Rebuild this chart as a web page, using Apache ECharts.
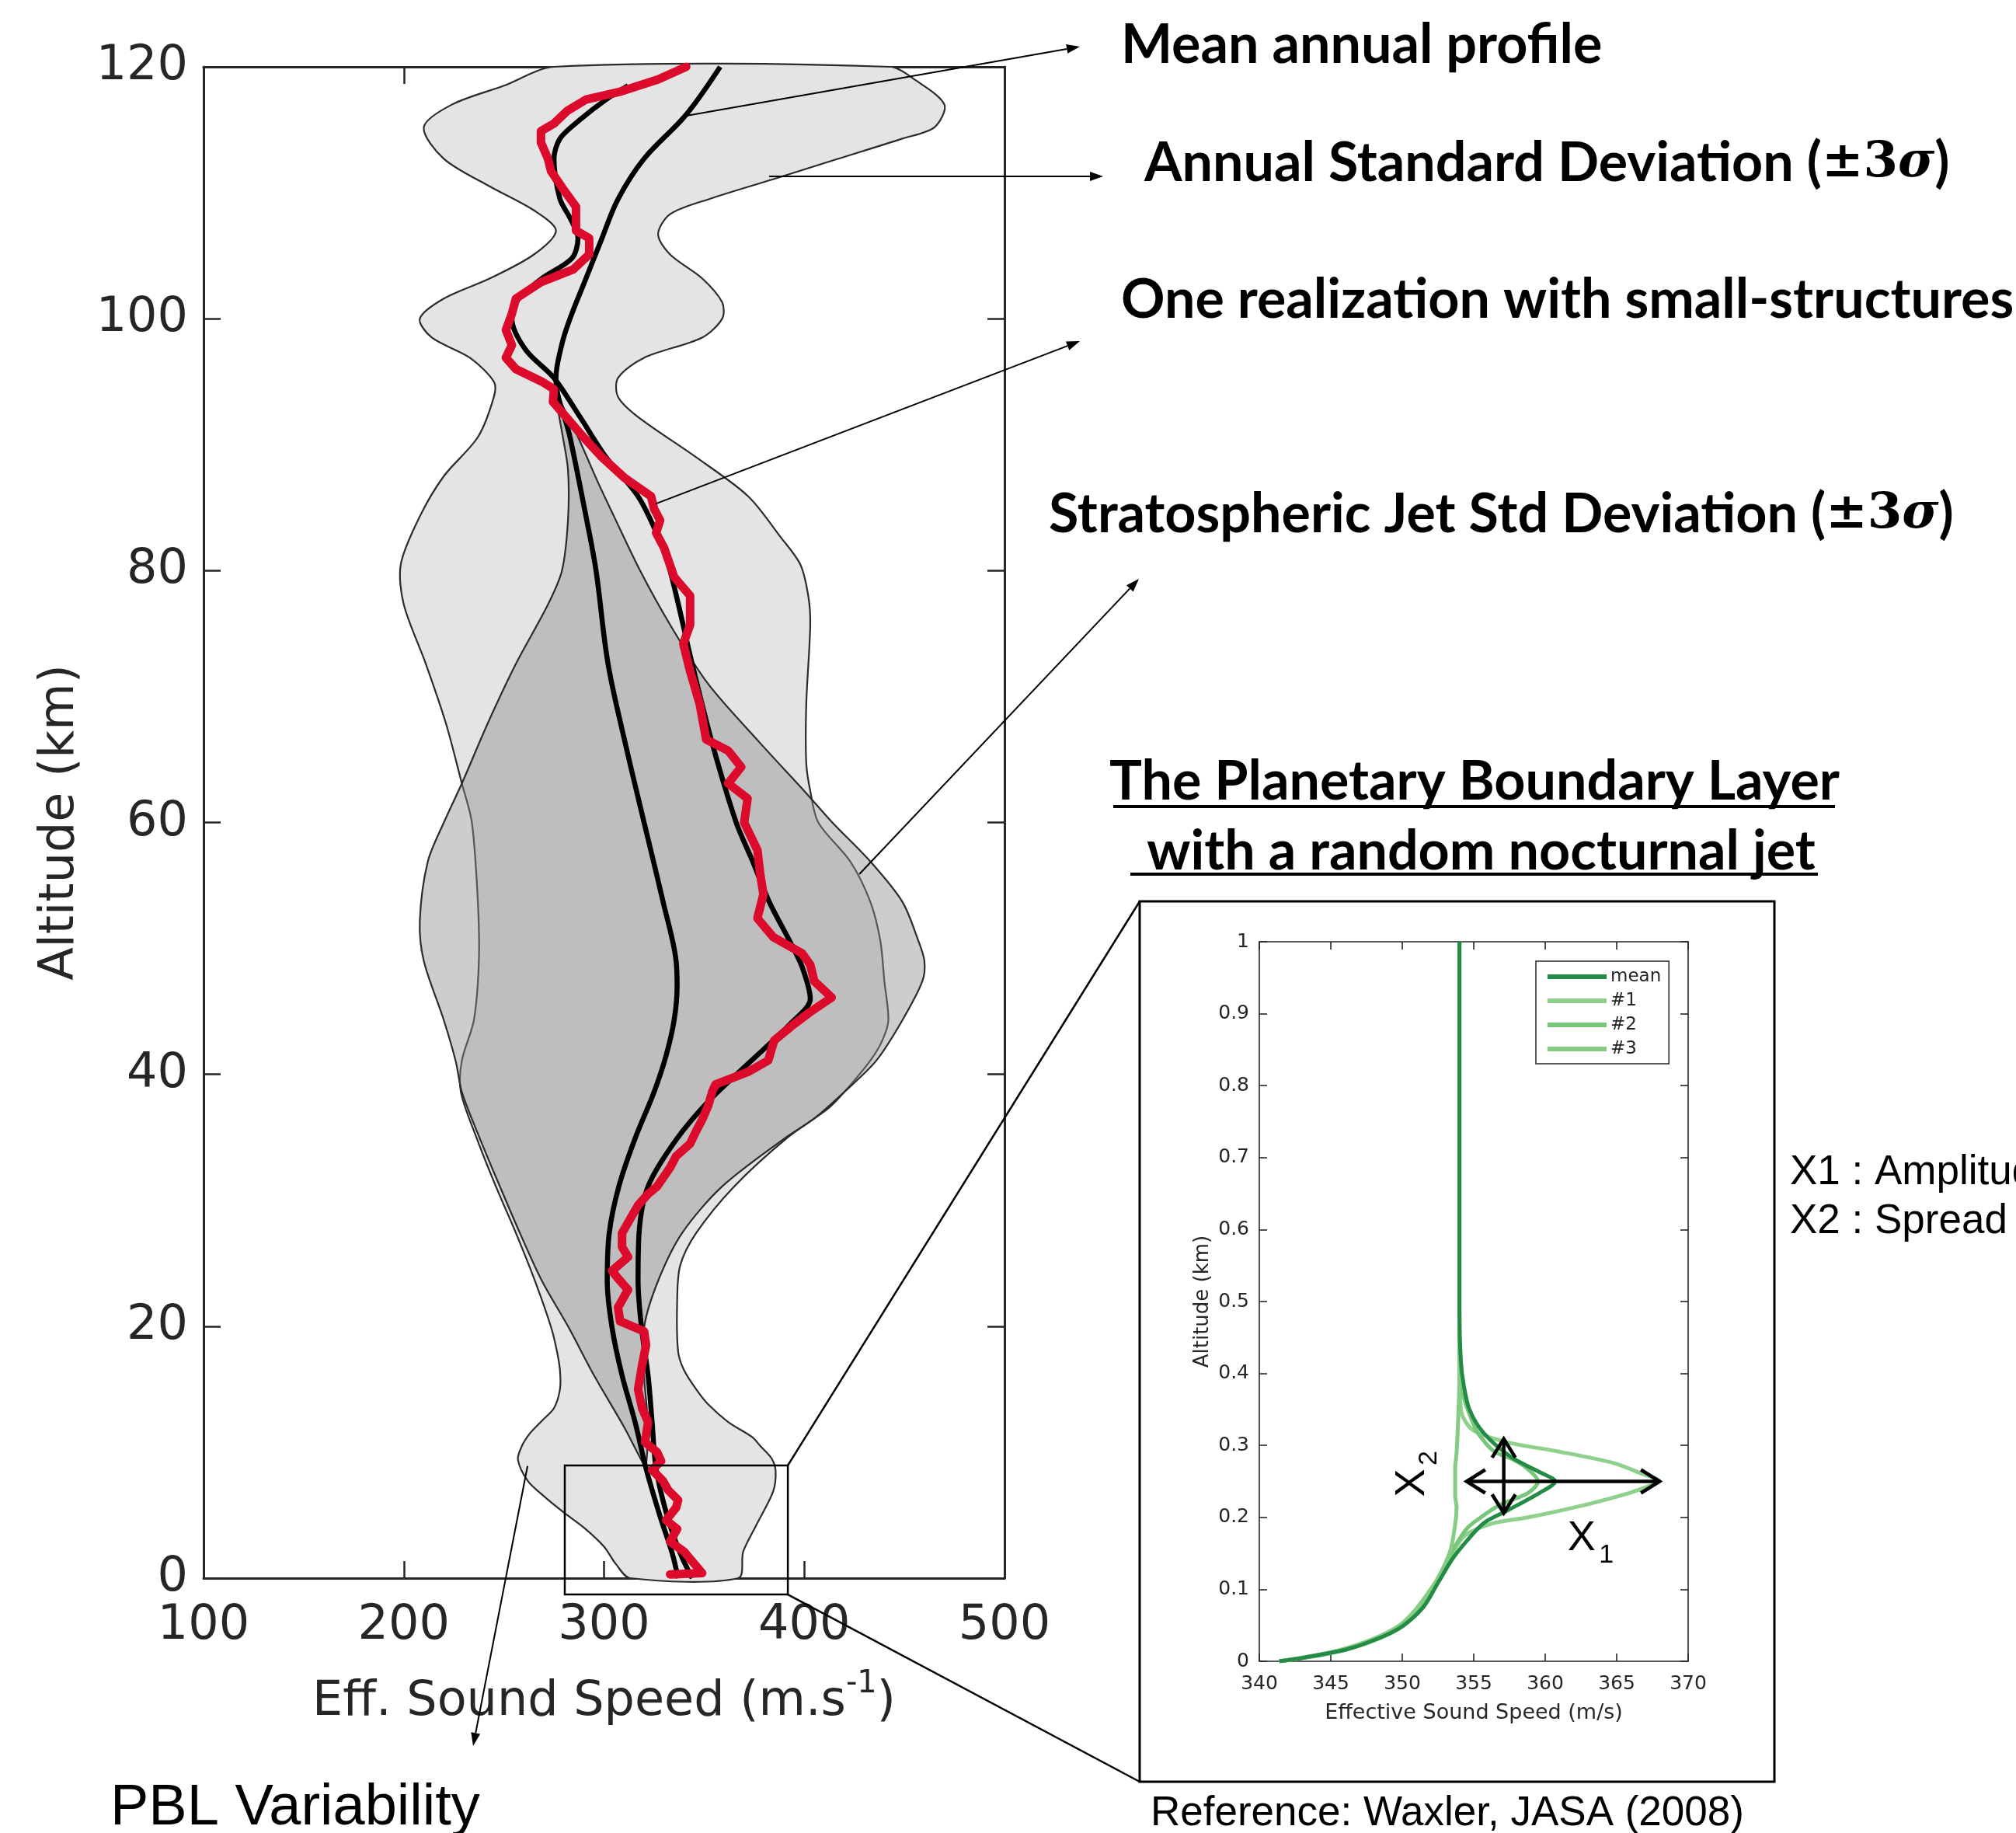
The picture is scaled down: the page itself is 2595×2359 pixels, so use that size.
<!DOCTYPE html>
<html><head><meta charset="utf-8">
<script src="https://cdn.jsdelivr.net/npm/echarts@6/dist/echarts.min.js"></script>
<style>html,body{margin:0;padding:0;background:#fff}#c{width:2595px;height:2359px}</style>
</head><body><div id="c"></div>
<script>
// ---------------- MAIN PANEL (speed m/s vs altitude km) ----------------
const speedTicks = [100, 200, 300, 400, 500];
const altTicks = [0, 20, 40, 60, 80, 100, 120];

// Annual standard deviation envelope (+/-3 sigma): [altitude, speed]
const annualLeft = [[0,313],[1.1,306],[2.5,300],[4,290],[5.2,280],[6.5,270],[7.7,262],[9.4,257],[10.5,259],[11.5,263],[12.5,269],[13.5,275],[15,278],[16.5,278],[18,276.5],[19.9,273.6],[23.6,265.5],[27.4,256],[31.1,246],[34.9,236.5],[38.6,228.5],[41.1,229],[44.3,235],[49,237.5],[53.7,237],[60,234],[63.1,229],[67.9,221],[72.6,211],[77.3,200],[80.5,198.5],[84.3,208],[87.5,220],[90.6,237],[93.8,245],[95,245],[96.9,233],[98.5,214],[100,208],[101.6,220],[103.2,243],[105.1,265],[107,276],[108.6,265],[110.5,243],[112.7,220],[115.2,210],[117,224],[118.5,250],[120,275]];
const annualRight = [[0,367],[2.1,369.5],[4.2,376],[6.85,384.4],[8.5,385.7],[9.5,383.7],[10.5,378],[11.2,374],[12.4,362],[13.8,352],[15,346],[16.5,340],[18,337],[21.8,336.5],[24.8,338],[27.4,346],[31.1,365],[34.9,391],[37.3,412],[38.6,420],[41.1,433],[42.7,439],[44.3,442],[47.4,440],[50.6,438],[53.7,433],[56.9,423],[60,407],[62.5,403],[64.7,401],[69.4,401],[75.7,403],[78,402],[80.5,398],[82.7,388],[85.9,372],[89,346],[92.2,317],[93.8,307],[95.3,307],[96.9,320],[98.5,349],[100,359],[101.3,359],[103.2,349],[105.1,333],[106.7,327],[108.3,333],[109.5,352.5],[111.1,385],[112.7,417],[114.3,449],[115.2,465],[117,470],[119,455],[120,443]];

// Stratospheric jet standard deviation envelope: [altitude, speed]
const jetLeft = [[9,320],[12,310],[16.1,295],[20,282],[23.6,269],[27.4,258],[31.1,248],[34.9,238],[38.6,229],[41,226],[44.3,220],[49,210],[52.2,208],[56.9,212],[60,220],[63.1,229],[67.9,242],[72.6,256],[77.3,272],[80,279],[84,282],[88,282],[91,279],[93.8,276]];
const jetRight = [[9,321],[12,322],[16.1,320],[19.9,320],[23.6,327],[27.4,339],[31.1,359],[34.9,390],[36.5,405],[38.6,420],[41.1,436],[44.3,449],[47.4,459],[49,460],[50.6,457],[53.7,449],[56.9,433],[60,414],[62.5,400],[66.3,378],[71,352],[75.7,333],[80,318],[84.3,305],[87,297],[90.6,287],[93.8,277]];

// Mean annual profile: [altitude, speed]
const meanAnnual = [[0,337],[2,334],[4.9,328],[8.7,321],[12.4,315.5],[16.1,309],[19.9,304],[23.6,301.6],[27.4,302.6],[31.1,307.4],[34.9,315.5],[38.6,325],[41.5,331],[44.3,335],[47,336.5],[49,336],[53.7,329.5],[60,320],[66.3,310.6],[72.6,302],[80,296],[84.3,291],[90.6,283],[95.3,276],[98,279],[100,283],[103.2,291],[106.4,299],[109.5,307],[112.7,320],[116.2,341],[120,358]];
// Jet profile (smooth black curve under the realization)
const jetProfile = [[0,344],[2,338],[4.9,331.6],[8.7,326],[12.4,324],[16.1,322],[19.9,318.7],[23.6,317],[27.4,317.5],[31.1,322],[34.8,336],[38,353],[41,373],[44,393],[46,403],[48.5,399],[50.5,393],[53.7,382.5],[57,374],[60,366],[66.3,354],[72.6,344],[80,333],[82.7,327],[85.9,317],[89,301],[92.2,288],[95.3,275],[97.5,261],[100,254],[101.5,257],[103.2,269],[104.8,284],[106.4,287],[108,283],[109.5,278],[112.7,275],[114.3,278],[115.8,288],[117.4,301],[118.5,312]];
// One realization with small-structures: [altitude, speed]
const realization = [[0.3,333],[0.4,349],[2.1,340],[2.9,333],[3.9,336.5],[4.6,331],[5.6,336],[6.2,337],[7,332],[7.7,329.5],[8.6,324],[9.3,328.5],[10,326.5],[10.8,320.5],[12.4,322],[13.5,319],[15,317],[16.9,319],[18.5,321],[19.6,320],[20.4,308],[21.5,307],[22.9,312],[23.8,307],[24.4,304],[25.5,312],[26.3,309],[27.4,309],[28.5,313],[29.6,317],[30.5,322],[31.1,326.5],[32.6,333],[33.5,336],[34.5,343],[35.5,346],[36.4,349],[37.5,352],[38.6,354],[39.2,355.7],[40.2,372],[41.1,382],[42.7,385],[44,395],[44.9,402.5],[46.1,413.7],[47.4,405],[48.7,403],[49.6,399],[50.9,384.5],[52.4,376.6],[54.3,379.6],[55.9,378],[57.8,376.6],[60,370],[61.9,371.7],[63.1,362],[64.4,368.5],[65.7,362],[66.6,351],[69.4,347.8],[72,343],[74.2,339.6],[75.7,343],[78,343],[79.5,335],[81.8,330],[83,326],[84,328],[84.9,325],[85.9,323.5],[87.4,310],[89,299],[90.6,289.7],[92.1,281.6],[93.4,274.5],[94.4,275],[95,269],[96,256],[96.9,251],[97.9,254],[99.1,251],[100.4,254],[101.6,256],[102.9,268.5],[103.9,284.5],[105.1,292.6],[106.4,292.6],[107,286],[108.9,286],[110.2,280],[111.7,273.6],[112.7,272],[114,268.5],[114.9,268.5],[115.5,275],[116.5,281.6],[117.4,291],[118,307.4],[119,327],[120,341]];

// ---------------- INSET (planetary boundary layer) ----------------
const pblSpeedTicks = [340, 345, 350, 355, 360, 365, 370];
const pblAltTicks = [0, 0.1, 0.2, 0.3, 0.4, 0.5, 0.6, 0.7, 0.8, 0.9, 1];
const pblNames = ['mean', '#1', '#2', '#3'];
// [altitude km, speed m/s]
const pblMean = [[0,341.4],[0.005,343.1],[0.017,346.2],[0.034,348.6],[0.05,350.1],[0.076,351.5],[0.109,352.5],[0.142,353.5],[0.167,354.5],[0.192,355.7],[0.209,357.3],[0.234,359.6],[0.25,360.7],[0.263,359.6],[0.284,357.6],[0.317,355.7],[0.35,354.7],[0.384,354.3],[0.417,354.1],[0.483,354.0],[1.0,354.0]];
const pblJet1 = [[0,341.4],[0.017,346.2],[0.05,350.1],[0.109,352.4],[0.15,353.5],[0.175,354.4],[0.192,356.4],[0.2,358.8],[0.217,362.7],[0.234,365.9],[0.246,367.6],[0.25,368],[0.262,366.6],[0.276,364.7],[0.292,360.8],[0.305,357.2],[0.322,354.9],[0.35,354.1],[0.42,354.0],[1.0,354.0]];
const pblJet2 = [[0,341.4],[0.017,346.0],[0.05,349.9],[0.109,352.3],[0.15,353.4],[0.184,354.5],[0.2,355.5],[0.217,356.8],[0.234,358.8],[0.25,359.5],[0.267,358.8],[0.28,357.8],[0.292,356.4],[0.317,355.3],[0.334,354.9],[0.367,354.3],[0.417,354.0],[1.0,354.0]];
const pblJet3 = [[0,341.4],[0.017,345.9],[0.05,349.8],[0.1,352.0],[0.15,353.3],[0.19,353.7],[0.215,353.8],[0.222,353.75],[0.23,353.7],[0.27,353.7],[0.28,353.75],[0.29,353.8],[0.33,353.9],[0.4,354.0],[1.0,354.0]];
const pblColors = ['#238b45', '#8fd18c', '#78c679', '#86cc85'];

// Amplitude (X1) and spread (X2) arrows: [speedFrom, altFrom, speedTo, altTo]
const jetArrows = [[354.5, 0.25, 368.0, 0.25], [357.1, 0.206, 357.1, 0.309]];

const toXY = arr => arr.map(p => [p[1], p[0]]);
const FONT_AX = "'DejaVu Sans', sans-serif";

function band(name, left, right, fill, z) {
  const poly = toXY(left).concat(toXY(right).reverse());
  return {
    type: 'custom', name, xAxisIndex: 0, yAxisIndex: 0, z, silent: true,
    data: poly, encode: { x: 0, y: 1 },
    renderItem(params, api) {
      if (params.dataIndex !== 0) return null;
      return { type: 'polygon', shape: { points: poly.map(p => api.coord(p)), smooth: 0.3 },
        style: { fill, stroke: '#2b2b2b', lineWidth: 2.2 } };
    }
  };
}

function axisCommon(extra) {
  return Object.assign({
    type: 'value',
    axisLine: { show: true, onZero: false, lineStyle: { color: '#262626', width: 3 } },
    axisTick: { show: true, inside: true, length: 22, lineStyle: { color: '#262626', width: 2.5 } },
    splitLine: { show: false },
    nameMoveOverlap: false
  }, extra);
}
const mainLabel = { fontFamily: FONT_AX, fontSize: 62, color: '#262626' };
const insetLabel = { fontFamily: FONT_AX, fontSize: 25, color: '#262626' };
const insetLine = { show: true, onZero: false, lineStyle: { color: '#262626', width: 1.6 } };
const insetTick = { show: true, inside: true, length: 10, lineStyle: { color: '#262626', width: 1.6 } };

const option = {
  animation: false,
  backgroundColor: '#ffffff',
  grid: [
    { left: 262, top: 86, width: 1031, height: 1945, containLabel: false, outerBoundsMode: 'none' },
    { left: 1621, top: 1212, width: 552, height: 926, containLabel: false, outerBoundsMode: 'none' }
  ],
  xAxis: [
    axisCommon({ gridIndex: 0, position: 'bottom', min: speedTicks[0], max: speedTicks[speedTicks.length - 1],
      interval: speedTicks[1] - speedTicks[0],
      axisLabel: Object.assign({ margin: 31 }, mainLabel),
      name: '{n|Eff. Sound Speed (m.s}{s|-1}{n|)}', nameLocation: 'middle', nameGap: 117,
      nameTextStyle: { rich: { n: { fontFamily: FONT_AX, fontSize: 62, color: '#262626', lineHeight: 74, verticalAlign: 'bottom' },
        s: { fontFamily: FONT_AX, fontSize: 40, color: '#262626', lineHeight: 74, verticalAlign: 'top' } } } }),
    axisCommon({ gridIndex: 0, position: 'top', min: speedTicks[0], max: speedTicks[speedTicks.length - 1],
      interval: speedTicks[1] - speedTicks[0], axisLabel: { show: false } }),
    axisCommon({ gridIndex: 1, position: 'bottom', min: pblSpeedTicks[0], max: pblSpeedTicks[pblSpeedTicks.length - 1],
      interval: pblSpeedTicks[1] - pblSpeedTicks[0], axisLine: insetLine, axisTick: insetTick,
      axisLabel: Object.assign({ margin: 17 }, insetLabel),
      name: 'Effective Sound Speed (m/s)', nameLocation: 'middle', nameGap: 53,
      nameTextStyle: { fontFamily: FONT_AX, fontSize: 27, color: '#262626' } }),
    axisCommon({ gridIndex: 1, position: 'top', min: pblSpeedTicks[0], max: pblSpeedTicks[pblSpeedTicks.length - 1],
      interval: pblSpeedTicks[1] - pblSpeedTicks[0], axisLine: insetLine, axisTick: insetTick, axisLabel: { show: false } })
  ],
  yAxis: [
    axisCommon({ gridIndex: 0, position: 'left', min: altTicks[0], max: altTicks[altTicks.length - 1],
      interval: altTicks[1] - altTicks[0],
      axisLabel: Object.assign({ margin: 20 }, mainLabel),
      name: 'Altitude (km)', nameLocation: 'middle', nameGap: 153,
      nameTextStyle: { fontFamily: FONT_AX, fontSize: 62, color: '#262626' } }),
    axisCommon({ gridIndex: 0, position: 'right', min: altTicks[0], max: altTicks[altTicks.length - 1],
      interval: altTicks[1] - altTicks[0], axisLabel: { show: false } }),
    axisCommon({ gridIndex: 1, position: 'left', min: pblAltTicks[0], max: pblAltTicks[pblAltTicks.length - 1],
      interval: 0.1, axisLine: insetLine, axisTick: insetTick,
      axisLabel: Object.assign({ margin: 13, formatter: v => String(+(+v).toFixed(1)) }, insetLabel),
      name: 'Altitude (km)', nameLocation: 'middle', nameGap: 60,
      nameTextStyle: { fontFamily: FONT_AX, fontSize: 26, color: '#262626' } }),
    axisCommon({ gridIndex: 1, position: 'right', min: pblAltTicks[0], max: pblAltTicks[pblAltTicks.length - 1],
      interval: 0.1, axisLine: insetLine, axisTick: insetTick, axisLabel: { show: false } })
  ],
  legend: {
    data: pblNames, orient: 'vertical', left: 1977, top: 1237, icon: 'rect',
    itemWidth: 76, itemHeight: 6, itemGap: 5, padding: [7, 10, 6, 15],
    borderColor: '#262626', borderWidth: 1.5, backgroundColor: '#ffffff', borderRadius: 0,
    textStyle: { fontFamily: FONT_AX, fontSize: 23, color: '#262626', lineHeight: 26 },
    selectedMode: false
  },
  series: [
    band('annual', annualLeft, annualRight, '#e4e4e4', 1),
    band('jet', jetLeft, jetRight, 'rgba(142,142,142,0.44)', 2),
    { type: 'line', name: 'meanAnnual', xAxisIndex: 0, yAxisIndex: 0, data: toXY(meanAnnual), smooth: 0.35,
      showSymbol: false, z: 5, silent: true, lineStyle: { color: '#000', width: 6.5 } },
    { type: 'line', name: 'jetProfile', xAxisIndex: 0, yAxisIndex: 0, data: toXY(jetProfile), smooth: 0.3,
      showSymbol: false, z: 5, silent: true, lineStyle: { color: '#000', width: 6.5 } },
    { type: 'line', name: 'realization', xAxisIndex: 0, yAxisIndex: 0, data: toXY(realization), smooth: false,
      showSymbol: false, z: 6, silent: true, lineStyle: { color: '#dc0a2b', width: 11, join: 'round', cap: 'round' } },
    { type: 'line', name: '#1', xAxisIndex: 2, yAxisIndex: 2, data: toXY(pblJet1), smooth: 0.3, showSymbol: false, z: 3,
      itemStyle: { color: pblColors[1] }, lineStyle: { color: pblColors[1], width: 5 } },
    { type: 'line', name: '#2', xAxisIndex: 2, yAxisIndex: 2, data: toXY(pblJet2), smooth: 0.3, showSymbol: false, z: 3,
      itemStyle: { color: pblColors[2] }, lineStyle: { color: pblColors[2], width: 5 } },
    { type: 'line', name: '#3', xAxisIndex: 2, yAxisIndex: 2, data: toXY(pblJet3), smooth: 0.3, showSymbol: false, z: 3,
      itemStyle: { color: pblColors[3] }, lineStyle: { color: pblColors[3], width: 5 } },
    { type: 'line', name: 'mean', xAxisIndex: 2, yAxisIndex: 2, data: toXY(pblMean), smooth: 0.3, showSymbol: false, z: 4,
      itemStyle: { color: pblColors[0] }, lineStyle: { color: pblColors[0], width: 5 } },
    { type: 'custom', name: 'arrows', xAxisIndex: 2, yAxisIndex: 2, z: 8, silent: true, data: jetArrows,
      renderItem(params, api) {
        const a = api.coord([api.value(0), api.value(1)]);
        const b = api.coord([api.value(2), api.value(3)]);
        const dx = b[0] - a[0], dy = b[1] - a[1], L = Math.hypot(dx, dy);
        const ux = dx / L, uy = dy / L, px = -uy, py = ux, back = 24, half = 15;
        const head = (t, s) => [[t[0] + s * (ux * back) + px * half, t[1] + s * (uy * back) + py * half], t,
                                [t[0] + s * (ux * back) - px * half, t[1] + s * (uy * back) - py * half]];
        const st = { stroke: '#000', lineWidth: 4.5, fill: null, lineJoin: 'miter' };
        return { type: 'group', children: [
          { type: 'polyline', shape: { points: [a, b] }, style: st },
          { type: 'polyline', shape: { points: head(a, 1) }, style: st },
          { type: 'polyline', shape: { points: head(b, -1) }, style: st }
        ] };
      } }
  ]
};

const chart = echarts.init(document.getElementById('c'), null, { renderer: 'canvas', width: 2595, height: 2359 });
chart.setOption(option);

// ---------------- annotations ----------------
const P0 = d => chart.convertToPixel({ seriesIndex: 2 }, d);   // main panel
const P1 = d => chart.convertToPixel({ seriesIndex: 8 }, d);   // inset

// [anchor on plot (speed, altitude), arrow tip (px)]
const pointers = [
  [[340.5, 116.1], [1390, 60]],
  [[382.4, 111.3], [1420, 227]],
  [[325.8, 85.3], [1390, 439]],
  [[427.5, 55.9], [1466, 745]],
  [[261.8, 8.9], [609, 2247]]
];
const zoomBox = [[280.4, 8.95], [391.8, -1.3]];
const insetBox = [1467, 1160, 2284, 2293];

const g = [];
function arrow(from, to) {
  const dx = to[0] - from[0], dy = to[1] - from[1], L = Math.hypot(dx, dy);
  const ux = dx / L, uy = dy / L, len = 17, hw = 6;
  const base = [to[0] - ux * len, to[1] - uy * len];
  g.push({ type: 'line', shape: { x1: from[0], y1: from[1], x2: base[0], y2: base[1] }, style: { stroke: '#000', lineWidth: 2 }, z: 20 });
  g.push({ type: 'polygon', shape: { points: [to, [base[0] - uy * hw, base[1] + ux * hw], [base[0] + uy * hw, base[1] - ux * hw]] }, style: { fill: '#000' }, z: 20 });
}
pointers.forEach(p => arrow(P0(p[0]), p[1]));

const bA = P0(zoomBox[0]), bB = P0(zoomBox[1]);
g.push({ type: 'rect', shape: { x: bA[0], y: bA[1], width: bB[0] - bA[0], height: bB[1] - bA[1] }, style: { fill: null, stroke: '#000', lineWidth: 2.5 }, z: 20 });
g.push({ type: 'line', shape: { x1: bB[0], y1: bA[1], x2: insetBox[0], y2: insetBox[1] }, style: { stroke: '#000', lineWidth: 2.5 }, z: 20 });
g.push({ type: 'line', shape: { x1: bB[0], y1: bB[1], x2: insetBox[0], y2: insetBox[3] }, style: { stroke: '#000', lineWidth: 2.5 }, z: 20 });
g.push({ type: 'rect', shape: { x: insetBox[0], y: insetBox[1], width: insetBox[2] - insetBox[0], height: insetBox[3] - insetBox[1] }, style: { fill: null, stroke: '#000', lineWidth: 3 }, z: 0 });

const BOLD = { fontFamily: "Lato, 'Open Sans', sans-serif", fontWeight: 'bold', fontSize: 70, fill: '#000' };
const MATH = { fontFamily: "'DejaVu Serif', 'Liberation Serif', serif", fontWeight: 'bold', fontSize: 64, fill: '#000' };
const MATHI = Object.assign({}, MATH, { fontStyle: 'italic' });
const richSig = { b: BOLD, m: MATH, s: MATHI };
function txt(x, y, text, style, align) {
  g.push({ type: 'text', x, y, z: 30, style: Object.assign({ text, align: align || 'left', verticalAlign: 'middle' }, style) });
}
txt(1443, 58, 'Mean annual profile', BOLD);
txt(1473, 210, '{b|Annual Standard Deviation (}{m|±3}{s|σ}{b|)}', { rich: richSig });
txt(1443, 386, 'One realization with small-structures', BOLD);
txt(1350, 662, '{b|Stratospheric Jet Std Deviation (}{m|±3}{s|σ}{b|)}', { rich: richSig });
txt(1898, 1006, 'The Planetary Boundary Layer', BOLD, 'center');
txt(1898, 1096, ' with a random nocturnal jet', BOLD, 'center');
g.push({ type: 'line', shape: { x1: 1433, y1: 1038, x2: 2362, y2: 1038 }, style: { stroke: '#000', lineWidth: 4 }, z: 30 });
g.push({ type: 'line', shape: { x1: 1455, y1: 1125, x2: 2340, y2: 1125 }, style: { stroke: '#000', lineWidth: 4 }, z: 30 });

const ARIAL = { fontFamily: "'Liberation Sans', Arial, sans-serif", fill: '#000' };
txt(142, 2328, 'PBL Variability', Object.assign({ fontSize: 74 }, ARIAL));
txt(2304, 1509, 'X1 : Amplitude', Object.assign({ fontSize: 53 }, ARIAL));
txt(2304, 1572, 'X2 : Spread', Object.assign({ fontSize: 53 }, ARIAL));
txt(1481, 2334, 'Reference: Waxler, JASA (2008)', Object.assign({ fontSize: 53 }, ARIAL));

// X1 / X2 labels inside the inset
const jetLabels = [
  { at: [350.7, 0.263], main: 'X', sub: '2', rot: Math.PI / 2 },
  { at: [363.3, 0.171], main: 'X', sub: '1', rot: 0 }
];
jetLabels.forEach(l => {
  const p = P1(l.at);
  g.push({ type: 'group', x: p[0], y: p[1], rotation: l.rot, z: 30, children: [
    { type: 'text', x: -14, y: 0, style: Object.assign({ text: l.main, fontSize: 54, align: 'center', verticalAlign: 'middle' }, ARIAL) },
    { type: 'text', x: 18, y: 22, style: Object.assign({ text: l.sub, fontSize: 34, align: 'center', verticalAlign: 'middle' }, ARIAL) }
  ] });
});

chart.setOption({ graphic: g });
</script>
</body></html>
